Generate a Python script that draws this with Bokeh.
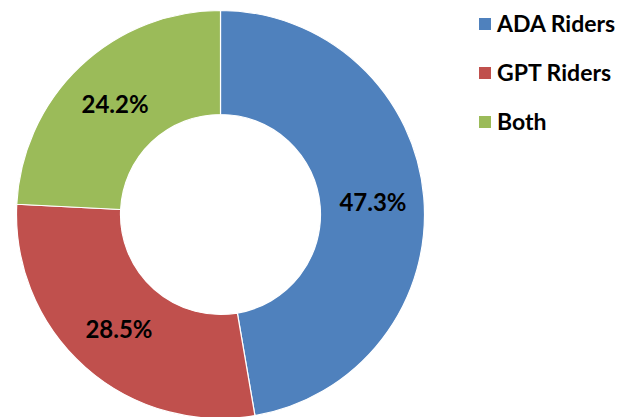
import numpy as np
from bokeh.plotting import figure
from bokeh.models import ColumnDataSource, Range1d, Legend, LegendItem
from bokeh.core.properties import value
from bokeh.embed import file_html
from bokeh.resources import INLINE

categories = ["ADA Riders", "GPT Riders", "Both"]
shares = [47.3, 28.5, 24.2]
colors = ["#4F81BD", "#C0504D", "#9BBB59"]
labels = ["47.3%", "28.5%", "24.2%"]

W, H = 636, 417
p = figure(width=W, height=H, output_backend="svg", toolbar_location=None,
           x_range=Range1d(0, W), y_range=Range1d(0, H),
           min_border=0, outline_line_color=None)
p.axis.visible = False
p.grid.visible = False
p.background_fill_color = "white"
p.border_fill_color = "white"

cx, cy = 220, H - 214
r_out, r_in = 204, 100

frac = np.array(shares) / np.sum(shares)
cum = np.concatenate([[0], np.cumsum(frac)])
start = np.pi / 2 - cum[1:] * 2 * np.pi
end = np.pi / 2 - cum[:-1] * 2 * np.pi
mid = (start + end) / 2
r_lab = (r_out + r_in) / 2 + 1

src = ColumnDataSource(dict(cat=categories, start=start, end=end, color=colors,
                            lx=cx + r_lab * np.cos(mid), ly=cy + r_lab * np.sin(mid),
                            lab=labels))
p.annular_wedge(x=cx, y=cy, inner_radius=r_in, outer_radius=r_out,
                start_angle="start", end_angle="end", fill_color="color",
                line_color="white", line_width=1.2, source=src)
p.text(x="lx", y="ly", text="lab", source=src, text_align="center",
       text_baseline="middle", text_font=value("Lato"), text_font_style="bold",
       text_font_size="24px", text_color="black")

nan = float("nan")
items = []
for c, col in zip(categories, colors):
    s = ColumnDataSource(dict(l=[nan], r=[nan], t=[nan], b=[nan]))
    r = p.quad(left="l", right="r", top="t", bottom="b", source=s,
               fill_color=col, line_color=None)
    items.append(LegendItem(label=c, renderers=[r]))

legend = Legend(items=items, location=(477, H - 135), orientation="vertical",
                glyph_width=15, glyph_height=15, label_height=20, spacing=21,
                padding=0, margin=0, border_line_color=None,
                background_fill_alpha=0, label_standoff=5,
                label_text_font="Lato", label_text_font_style="bold",
                label_text_font_size="23px", label_text_color="black")
p.add_layout(legend)

open("out.html", "w").write(file_html(p, INLINE))
